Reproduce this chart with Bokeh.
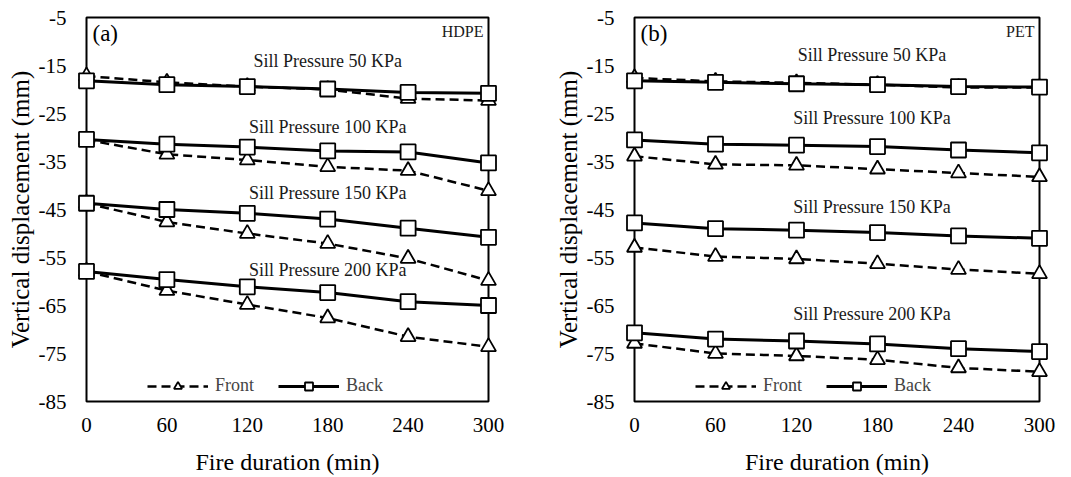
from bokeh.plotting import figure
from bokeh.models import Legend, LegendItem, Label, FixedTicker, Range1d, ColumnDataSource
from bokeh.layouts import row
from bokeh.embed import file_html
from bokeh.resources import INLINE
from bokeh.core.properties import value

# ---------------- data ----------------
time_min = [0, 60, 120, 180, 240, 300]
x_ticks = [0, 60, 120, 180, 240, 300]
y_ticks = [-85, -75, -65, -55, -45, -35, -25, -15, -5]

# HDPE (a)
hdpe_front_50 = [-17.2, -18.5, -19.4, -20.0, -21.9, -22.3]
hdpe_back_50 = [-18.2, -19.0, -19.4, -19.9, -20.6, -20.8]
hdpe_front_100 = [-30.5, -33.5, -34.7, -36.1, -36.9, -41.1]
hdpe_back_100 = [-30.4, -31.4, -32.0, -32.8, -33.0, -35.3]
hdpe_front_150 = [-43.7, -47.6, -50.0, -52.1, -55.2, -59.8]
hdpe_back_150 = [-43.7, -45.0, -45.8, -47.0, -48.9, -50.8]
hdpe_front_200 = [-57.9, -61.9, -64.8, -67.6, -71.5, -73.6]
hdpe_back_200 = [-57.9, -59.6, -61.1, -62.3, -64.2, -65.0]

# PET (b)
pet_front_50 = [-17.6, -18.3, -18.6, -19.0, -19.6, -19.6]
pet_back_50 = [-18.2, -18.5, -18.8, -19.0, -19.4, -19.5]
pet_front_100 = [-33.9, -35.6, -35.8, -36.6, -37.4, -38.2]
pet_back_100 = [-30.5, -31.4, -31.6, -31.9, -32.6, -33.2]
pet_front_150 = [-52.9, -54.8, -55.3, -56.3, -57.5, -58.4]
pet_back_150 = [-47.8, -49.0, -49.3, -49.8, -50.5, -51.0]
pet_front_200 = [-72.9, -75.0, -75.5, -76.3, -78.0, -78.8]
pet_back_200 = [-70.7, -72.0, -72.4, -73.0, -74.0, -74.6]

sill_labels = ["Sill Pressure 50 KPa", "Sill Pressure 100 KPa",
               "Sill Pressure 150 KPa", "Sill Pressure 200 KPa"]
hdpe_label_x = [180, 180, 180, 180]
hdpe_label_y = [-14.0, -27.8, -41.6, -57.7]
pet_label_x = [176, 176, 176, 176]
pet_label_y = [-12.8, -26.0, -44.4, -66.7]

FONT = "Liberation Serif"


def make_panel(front_series, back_series, lab_x, lab_y, tag, material,
               width, border_left, border_right):
    p = figure(width=width, height=477, output_backend="svg", toolbar_location=None,
               x_range=Range1d(0, 300), y_range=Range1d(-85, -5),
               min_border_left=border_left, min_border_right=border_right,
               min_border_top=17, min_border_bottom=76)
    p.grid.visible = False
    p.outline_line_color = "black"
    p.outline_line_width = 2
    p.background_fill_color = "white"
    p.border_fill_color = "white"

    for ax in (p.xaxis[0], p.yaxis[0]):
        ax.axis_line_color = None
        ax.major_tick_line_color = None
        ax.minor_tick_line_color = None
        ax.major_tick_out = 0
        ax.major_tick_in = 0
        ax.minor_tick_out = 0
        ax.minor_tick_in = 0
        ax.major_label_text_font = FONT
        ax.major_label_text_font_size = "21px"
        ax.major_label_text_color = "black"
        ax.axis_label_text_font = FONT
        ax.axis_label_text_font_style = "normal"
        ax.axis_label_text_color = "black"
    p.xaxis.axis_label_text_font_size = "24px"
    p.yaxis.axis_label_text_font_size = "25px"
    p.xaxis.ticker = FixedTicker(ticks=x_ticks)
    p.yaxis.ticker = FixedTicker(ticks=y_ticks)
    p.xaxis.major_label_overrides = {t: str(t) for t in x_ticks}
    p.yaxis.major_label_overrides = {t: str(t) for t in y_ticks}
    p.xaxis.axis_label = "Fire duration (min)"
    p.yaxis.axis_label = "Vertical displacement (mm)"
    p.xaxis.major_label_standoff = 16
    p.xaxis.axis_label_standoff = 14
    p.yaxis.major_label_standoff = 20
    p.yaxis.axis_label_standoff = 2

    front_line = front_mark = back_line = back_mark = None
    for ys in front_series:
        src = ColumnDataSource(dict(x=time_min, y=ys))
        front_line = p.line("x", "y", source=src, line_color="black", line_width=2.5,
                            line_dash="9 5", level="overlay")
        front_mark = p.scatter("x", "y", source=src, marker="triangle", size=15,
                               fill_color="white", line_color="black", line_width=1.8,
                               level="overlay")
    for ys in back_series:
        src = ColumnDataSource(dict(x=time_min, y=ys))
        back_line = p.line("x", "y", source=src, line_color="black", line_width=3,
                           level="overlay")
        back_mark = p.scatter("x", "y", source=src, marker="square", size=15,
                              fill_color="white", line_color="black", line_width=1.8,
                              level="overlay")

    tsrc = ColumnDataSource(dict(x=lab_x, y=lab_y, t=sill_labels))
    p.text("x", "y", text="t", source=tsrc, text_font=value(FONT),
           text_font_size="18px", text_align="center", text_baseline="middle",
           text_color="#1a1a1a")

    p.add_layout(Label(x=0, y=-5, x_offset=6, y_offset=-16, text=tag,
                       text_font=FONT, text_font_size="23px", text_baseline="middle",
                       text_color="black"))
    p.add_layout(Label(x=300, y=-5, x_offset=-5, y_offset=-14, text=material,
                       text_font=FONT, text_font_size="16px", text_align="right",
                       text_baseline="middle", text_color="#1a1a1a"))

    legend = Legend(items=[LegendItem(label="Front", renderers=[front_line, front_mark]),
                           LegendItem(label="Back", renderers=[back_line, back_mark])],
                    location=(61, 5), orientation="horizontal",
                    glyph_width=61, glyph_height=20, label_height=20,
                    label_text_font=FONT, label_text_font_size="18px",
                    label_standoff=7, spacing=24, padding=0, margin=0,
                    border_line_color=None, background_fill_alpha=0)
    p.add_layout(legend)
    return p


p1 = make_panel([hdpe_front_50, hdpe_front_100, hdpe_front_150, hdpe_front_200],
                [hdpe_back_50, hdpe_back_100, hdpe_back_150, hdpe_back_200],
                hdpe_label_x, hdpe_label_y, "(a)", "HDPE", 535, 86, 47)
p2 = make_panel([pet_front_50, pet_front_100, pet_front_150, pet_front_200],
                [pet_back_50, pet_back_100, pet_back_150, pet_back_200],
                pet_label_x, pet_label_y, "(b)", "PET", 536, 99, 32)

layout = row(p1, p2)
open("out.html", "w").write(file_html(layout, INLINE))
